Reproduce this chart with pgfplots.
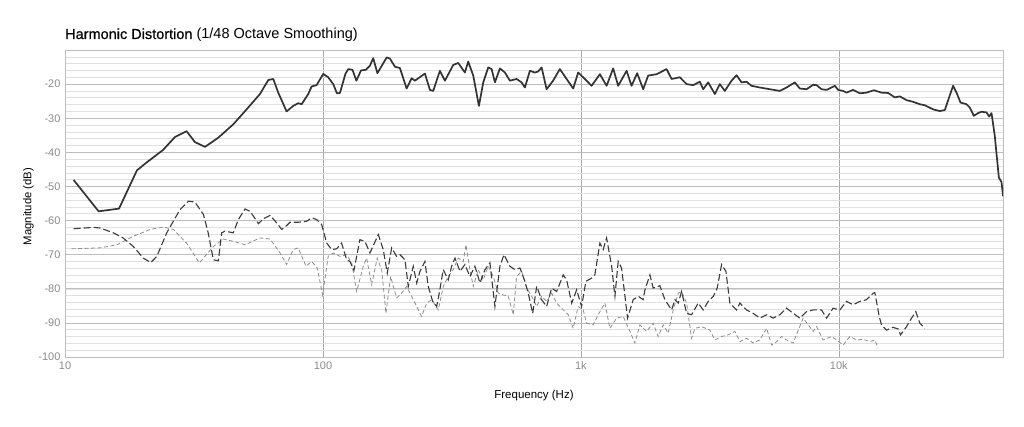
\documentclass[border=0pt]{standalone}
\usepackage{fontspec}
\setmainfont{Liberation Sans}
\newfontfamily\medfont[FakeBold=0.5]{Liberation Sans}
\usepackage{pgfplots}
\usepackage{pgfplotstable}
\pgfplotsset{compat=1.18}
\definecolor{maincol}{HTML}{333333}
\definecolor{h2col}{HTML}{3A3A3A}
\definecolor{h3col}{HTML}{8C8C8C}
\definecolor{majgrid}{HTML}{BDBDBD}
\definecolor{majxgrid}{HTML}{A8A8A8}
\definecolor{mingrid}{HTML}{E0E0E0}
\definecolor{tickcol}{HTML}{8A8A8A}

\pgfplotstableread{
f db
10.8 -48.1
13.5 -57.3
16.2 -56.5
19.0 -45.3
20.7 -43.0
24.0 -39.3
26.7 -35.5
29.6 -33.8
31.9 -37.0
34.9 -38.4
39.3 -35.7
44.9 -31.8
50.6 -27.4
57.0 -22.9
61.4 -18.8
64.2 -18.5
67.1 -22.5
72.3 -28.0
76.7 -26.4
80.2 -25.6
82.7 -25.9
87.7 -22.9
90.4 -20.7
94.5 -20.3
100.3 -17.0
104.8 -18.0
109.6 -20.0
113.3 -22.7
116.4 -22.6
122.2 -17.0
125.3 -15.6
130.1 -15.8
134.8 -19.0
140.4 -16.0
146.8 -15.8
152.1 -14.6
156.7 -12.4
162.6 -16.8
176.6 -12.2
181.8 -12.5
190.1 -14.9
198.8 -15.3
211.1 -21.3
220.7 -18.3
227.3 -19.0
248.5 -16.9
259.8 -21.7
267.6 -22.0
284.1 -16.1
297.1 -19.0
319.9 -14.4
334.5 -13.8
355.1 -16.6
365.8 -13.4
382.6 -17.5
402.4 -26.4
418.3 -19.5
437.3 -15.1
450.8 -15.6
464.2 -19.5
485.3 -15.4
507.5 -16.6
530.6 -19.0
563.4 -18.5
589.1 -19.5
606.6 -21.0
634.3 -16.1
663.3 -16.6
683.2 -16.3
704.3 -15.1
736.4 -21.5
780.6 -19.0
828.9 -15.6
880.4 -18.5
933.7 -21.3
976 -16.6
1036 -18.5
1100 -20.5
1185 -17.1
1258 -20.5
1334 -15.4
1395 -20.5
1504 -16.1
1572 -20.5
1653 -16.8
1744 -21.5
1823 -17.5
1966 -17.1
2149 -15.6
2247 -18.5
2419 -18.0
2569 -20.0
2725 -20.3
2892 -19.3
2979 -21.5
3115 -19.5
3306 -22.9
3457 -20.0
3614 -22.0
3838 -19.0
4013 -17.4
4196 -19.5
4387 -19.3
4587 -20.5
4942 -21.0
5403 -21.5
5906 -22.0
6270 -21.0
6753 -19.5
7060 -21.3
7497 -21.5
7952 -20.2
8195 -20.3
8568 -21.5
8960 -21.7
9370 -21.0
9650 -20.5
9940 -21.7
10390 -22.0
10710 -22.5
11360 -21.7
12060 -22.7
12800 -22.5
13670 -21.8
14640 -22.5
15530 -22.6
16480 -23.9
17240 -23.6
18300 -24.7
19410 -25.2
20610 -25.9
21540 -26.2
23200 -27.4
24640 -27.9
25760 -27.6
26760 -23.9
27730 -20.5
28590 -22.5
29630 -25.4
31260 -25.9
32210 -26.9
33370 -29.3
34670 -28.5
35730 -28.1
37370 -28.3
38260 -29.5
39080 -28.5
40240 -35.2
41720 -47.4
42720 -48.7
43340 -52.9
}\fundtable

\pgfplotstableread{
f db
10.8 -62.4
12.9 -62.0
13.7 -62.2
15.4 -63.6
16.8 -65.1
18.4 -67.6
20.1 -71.0
21.5 -72.3
22.7 -70.5
24.8 -63.6
27.9 -56.8
30.1 -54.3
31.9 -54.6
34.4 -58.2
35.9 -63.6
37.6 -71.5
39.3 -71.8
40.5 -63.6
41.7 -63.1
43.6 -63.4
44.9 -63.6
47.0 -59.7
49.9 -56.6
52.2 -57.3
56.2 -60.9
58.7 -59.5
62.4 -58.5
66.2 -60.7
69.2 -62.6
72.3 -61.5
74.5 -60.5
80.2 -60.5
86.5 -60.2
90.4 -59.2
94.5 -59.7
98.9 -61.2
103.4 -66.6
108.1 -68.5
113.0 -68.3
118.1 -66.6
123.6 -71.5
127.3 -72.0
131.9 -74.6
139.1 -65.6
145.5 -66.1
152.1 -69.5
163.9 -64.1
171.3 -68.5
177.6 -75.4
184.7 -68.0
193.1 -70.5
198.8 -70.0
208.0 -71.5
214.2 -79.3
224.0 -73.4
230.9 -78.3
237.8 -74.9
248.5 -72.0
256.0 -79.3
266.3 -83.7
276.0 -85.2
282.4 -81.3
292.7 -74.4
306.1 -77.4
315.5 -73.4
325.0 -71.0
339.8 -74.9
355.1 -72.9
371.4 -76.4
388.3 -73.4
406.2 -78.3
424.7 -74.4
444.0 -72.4
464.2 -85.2
485.3 -73.4
503.3 -70.0
530.6 -73.4
555.2 -74.4
580.6 -73.9
606.6 -77.8
625.2 -81.3
650.3 -87.2
674.0 -79.3
704.3 -83.2
736.4 -85.2
770.4 -79.8
805.4 -80.8
854.5 -75.9
880.4 -77.4
921.2 -84.2
963.2 -80.3
1006 -85.2
1046 -77.8
1100 -76.9
1133 -75.9
1185 -66.6
1220 -68.5
1258 -65.1
1316 -73.4
1355 -82.2
1395 -72.0
1438 -73.9
1517 -88.6
1595 -83.2
1668 -82.2
1744 -83.2
1771 -80.3
1852 -75.9
1906 -79.8
2024 -79.1
2117 -83.2
2247 -86.2
2315 -83.2
2384 -84.2
2458 -80.8
2569 -87.2
2687 -87.6
2850 -84.2
2979 -86.2
3115 -83.7
3260 -82.2
3376 -79.8
3512 -72.9
3650 -74.9
3782 -84.2
4013 -86.2
4135 -84.2
4387 -86.2
4655 -87.2
4942 -88.6
5249 -87.6
5568 -88.6
5906 -87.6
6270 -85.7
6657 -87.2
7060 -88.6
7497 -86.7
7952 -86.2
8568 -86.2
8960 -88.6
9500 -85.7
10090 -86.2
10710 -83.7
11360 -84.7
12060 -83.7
12800 -83.2
13580 -81.3
13790 -81.1
14340 -88.1
14640 -90.6
15300 -92.1
16230 -91.3
17000 -91.8
17350 -93.5
18300 -91.1
19140 -88.6
19880 -86.7
20610 -90.1
21540 -91.6
}\hdtwotable

\pgfplotstableread{
f db
10.6 -68.3
13.7 -68.0
15.9 -67.1
18.4 -64.6
21.4 -62.6
24.0 -61.9
26.3 -62.6
29.6 -66.6
33.2 -72.4
37.6 -67.6
41.1 -65.4
44.9 -66.1
49.9 -67.1
57.0 -65.1
62.4 -65.4
68.2 -69.5
72.3 -72.9
76.7 -68.5
80.2 -68.0
86.0 -73.4
90.4 -72.0
95.0 -73.9
99.7 -81.8
104.8 -70.5
109.6 -69.5
116.4 -70.5
123.6 -70.0
129.2 -72.4
135.1 -80.8
143.4 -73.4
147.7 -71.0
154.5 -78.8
162.3 -71.0
168.9 -74.4
175.5 -87.2
183.0 -76.4
193.1 -82.7
201.9 -81.3
211.1 -79.3
224.0 -83.2
241.3 -88.1
252.4 -84.2
263.9 -83.2
280.0 -86.2
292.7 -79.3
306.1 -76.4
319.9 -74.4
334.5 -71.0
350.0 -72.0
358.5 -67.1
371.4 -74.4
382.6 -79.3
400.0 -74.4
418.3 -77.4
437.3 -73.4
457.5 -76.4
478.3 -81.3
500.0 -81.8
523.0 -82.2
546.8 -87.6
563.4 -76.4
589.1 -74.9
616.4 -79.8
644.5 -82.2
674.0 -85.2
704.3 -82.2
736.4 -83.7
770.4 -81.3
805.4 -84.2
854.5 -86.2
893.5 -87.6
933.7 -91.6
976 -85.2
1021 -86.2
1052 -90.1
1116 -90.6
1167 -87.6
1239 -84.2
1295 -91.6
1375 -88.6
1459 -88.1
1549 -92.5
1619 -95.9
1693 -90.6
1798 -92.5
1906 -90.1
1993 -94.0
2085 -90.6
2180 -93.0
2280 -86.2
2384 -81.3
2458 -80.8
2569 -84.2
2687 -94.5
2767 -91.6
2938 -91.1
3163 -92.1
3306 -95.0
3512 -94.0
3726 -93.5
3954 -92.5
4135 -95.5
4387 -94.5
4655 -95.9
4942 -95.0
5249 -91.6
5488 -96.5
5739 -95.5
6000 -94.0
6270 -95.0
6657 -95.9
6963 -92.1
7273 -88.6
7613 -90.6
7952 -92.5
8195 -91.1
8690 -95.0
9370 -94.0
9800 -95.0
10390 -96.5
11030 -94.0
11710 -95.0
12420 -94.8
13190 -95.5
13790 -95.0
14200 -97.5
}\hdthreetable

\begin{document}
\begin{tikzpicture}[x=1pt,y=1pt]
\path[use as bounding box] (-65,-70) rectangle (959,357);
\begin{axis}[
  at={(0,0)}, anchor=south west,
  scale only axis,
  width=938pt, height=307pt,
  xmode=log,
  log basis x=10,
  xmin=10, xmax=43300,
  ymin=-100, ymax=-10,
  xtick={10,100,1000,10000},
  xticklabels={10,100,1k,10k},
  ytick={-100,-90,-80,-70,-60,-50,-40,-30,-20},
  minor ytick={-98,-96,...,-12},
  grid=both,
  major x grid style={draw=majxgrid, line width=0.6pt},
  major y grid style={draw=majgrid, line width=0.6pt},
  minor grid style={draw=mingrid, line width=0.5pt},
  axis line style={draw=majgrid, line width=0.6pt},
  major tick length=0pt, minor tick length=0pt,
  /pgf/number format/assume math mode=true,
  ticklabel style={font=\fontsize{11}{13}\selectfont, text=tickcol},
  xticklabel style={yshift=-1pt},
  yticklabel style={xshift=-1pt},
  xlabel={Frequency (Hz)},
  ylabel={Magnitude (dB)},
  every axis x label/.style={at={(axis description cs:0.5,0)}, yshift=-39pt, anchor=center, font=\fontsize{11.5}{13}\selectfont},
  every axis y label/.style={at={(axis description cs:0,0.5)}, xshift=-36.5pt, yshift=-3pt, rotate=90, anchor=center, font=\fontsize{11.3}{13}\selectfont},
  clip=true,
]
\addplot[h3col, line width=0.8pt, dash pattern=on 4pt off 2.5pt] table[x=f,y=db] {\hdthreetable};
\addplot[h2col, line width=1.1pt, dash pattern=on 7pt off 3pt] table[x=f,y=db] {\hdtwotable};
\addplot[maincol, line width=1.7pt, line join=round] table[x=f,y=db] {\fundtable};
\end{axis}
\node[anchor=base west, inner sep=0pt, font=\fontsize{14.5}{16}\selectfont] at (0,318) {{\medfont Harmonic Distortion} (1/48 Octave Smoothing)};
\end{tikzpicture}
\end{document}
